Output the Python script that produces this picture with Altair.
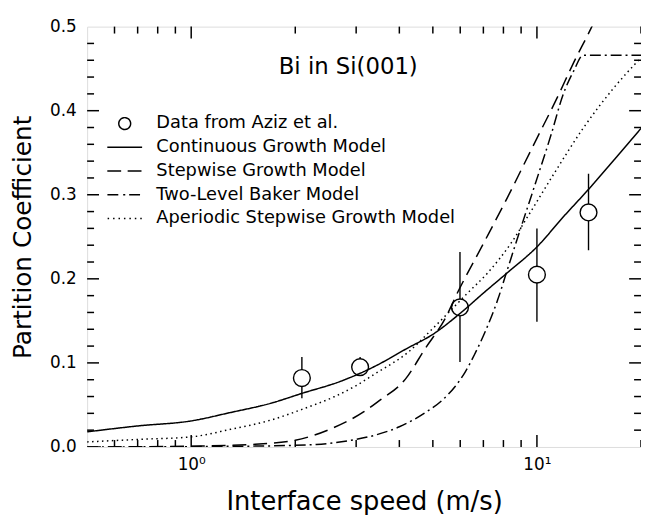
import altair as alt
import pandas as pd

FONT = "DejaVu Sans"

series_names = [
    "Data from Aziz et al.",
    "Continuous Growth Model",
    "Stepwise Growth Model",
    "Two-Level Baker Model",
    "Aperiodic Stepwise Growth Model",
]

# measured data (Aziz et al.)
data_speed = [2.09, 3.08, 5.99, 10.0, 14.1]
data_k = [0.082, 0.095, 0.166, 0.205, 0.279]
data_k_lo = [0.058, 0.086, 0.101, 0.149, 0.234]
data_k_hi = [0.107, 0.107, 0.232, 0.260, 0.325]

# Continuous Growth Model (solid)
cgm_speed = [0.5, 0.7, 1.0, 1.3, 1.7, 2.1, 2.7, 3.4, 4.2, 5.0, 6.0, 7.0, 8.2, 10.0, 12.0, 14.0, 17.0, 20.0]
cgm_k = [0.018, 0.025, 0.031, 0.041, 0.052, 0.064, 0.078, 0.096, 0.117, 0.134, 0.159, 0.183, 0.207, 0.238, 0.275, 0.305, 0.345, 0.379]

# Stepwise Growth Model (dashed)
sgm_speed = [0.5, 1.0, 1.5, 2.0, 2.55, 3.16, 3.47, 4.17, 4.75, 5.43, 5.9, 6.92, 8.2, 9.8, 11.4, 12.8, 14.3, 15.0]
sgm_k = [0.0, 0.001, 0.003, 0.008, 0.022, 0.042, 0.054, 0.081, 0.117, 0.153, 0.184, 0.238, 0.296, 0.360, 0.414, 0.458, 0.497, 0.515]

# Two-Level Baker Model (dash-dot)
tlb_speed = [0.5, 1.5, 2.3, 2.9, 3.4, 4.0, 4.8, 5.3, 5.8, 6.2, 6.6, 7.1, 7.7, 8.2, 8.7, 9.8, 11.0, 11.9, 12.8, 13.6, 20.0]
tlb_k = [0.0, 0.001, 0.003, 0.008, 0.014, 0.024, 0.042, 0.055, 0.072, 0.089, 0.110, 0.138, 0.175, 0.210, 0.243, 0.308, 0.372, 0.419, 0.448, 0.466, 0.466]

# Aperiodic Stepwise Growth Model (dotted)
asg_speed = [0.5, 0.7, 1.0, 1.3, 1.7, 2.1, 2.6, 3.0, 3.4, 4.25, 5.0, 6.3, 7.2, 8.5, 9.5, 11.2, 13.6, 16.6, 20.0]
asg_k = [0.006, 0.009, 0.012, 0.021, 0.032, 0.045, 0.060, 0.073, 0.087, 0.113, 0.141, 0.183, 0.207, 0.245, 0.277, 0.325, 0.379, 0.426, 0.463]

# axis ticks
x_label_ticks = [1, 10]
x_minor_ticks = [0.6, 0.7, 0.8, 0.9, 2, 3, 4, 5, 6, 7, 8, 9, 20]
y_label_ticks = [0.0, 0.1, 0.2, 0.3, 0.4, 0.5]
y_major_ticks = [0.1, 0.2, 0.3, 0.4]
y_minor_ticks = [0.02, 0.04, 0.06, 0.08, 0.12, 0.14, 0.16, 0.18, 0.22, 0.24, 0.26, 0.28,
                 0.32, 0.34, 0.36, 0.38, 0.42, 0.44, 0.46, 0.48]

W, H = 560, 425
MAJOR, MINOR = 12, 7

frames = []
for name, xs, ys in [
    (series_names[1], cgm_speed, cgm_k),
    (series_names[2], sgm_speed, sgm_k),
    (series_names[3], tlb_speed, tlb_k),
    (series_names[4], asg_speed, asg_k),
]:
    frames.append(pd.DataFrame({"speed": xs, "k": ys, "series": name}))
curves = pd.concat(frames, ignore_index=True)

pts = pd.DataFrame({"speed": data_speed, "k": data_k, "lo": data_k_lo, "hi": data_k_hi,
                    "series": series_names[0]})

xscale = alt.Scale(type="log", domain=[0.5, 20], nice=False)
yscale = alt.Scale(domain=[0, 0.5], nice=False, zero=False)

xaxis = alt.Axis(values=x_label_ticks,
                 labelExpr="datum.value == 1 ? '10\u2070' : '10\u00b9'",
                 ticks=False, tickSize=0, domain=False, grid=False,
                 labelFont=FONT, labelFontSize=17, labelColor="black",
                 labelBaseline="alphabetic", labelPadding=23,
                 title="Interface speed (m/s)", titleFont=FONT, titleFontSize=26,
                 titleFontWeight="normal", titleColor="black",
                 titleY=63, titleBaseline="alphabetic")
yaxis = alt.Axis(values=y_label_ticks, format=".1f",
                 ticks=False, tickSize=0, domain=False, grid=False,
                 labelFont=FONT, labelFontSize=17, labelColor="black",
                 labelPadding=11, labelBaseline="middle",
                 title="Partition Coefficient", titleFont=FONT, titleFontSize=25,
                 titleFontWeight="normal", titleColor="black",
                 titleX=-57, titleBaseline="alphabetic")

X = lambda f: alt.X(f, type="quantitative", scale=xscale, axis=xaxis)
Y = lambda f: alt.Y(f, type="quantitative", scale=yscale, axis=yaxis)

# legend glyphs (unit square = 22 px)
circle_path = "M0.545,0A0.545,0.545,0,1,1,-0.545,0A0.545,0.545,0,1,1,0.545,0Z"
solid_path = "M-1.6,0L1.6,0"
dashed_path = "M-1.6,0L-0.3,0M0.27,0L1.6,0"
dashdot_path = "M-1.59,0L-0.5,0M-0.14,0L0.05,0M0.41,0L1.59,0"
dotted_path = "".join("M%.3f,0L%.3f,0" % (c - 0.07, c + 0.07)
                      for c in [-1.5, -1.0, -0.5, 0.0, 0.5, 1.0, 1.5])
shapes = [circle_path, solid_path, dashed_path, dashdot_path, dotted_path]
dashes = [[1, 0], [1, 0], [14, 7], [11, 4, 2, 4], [1.5, 3.5]]

legend_def = alt.Legend(title=None, orient="none", legendX=26, legendY=86,
                        symbolSize=484, symbolStrokeWidth=1.5,
                        symbolStrokeColor="black",
                        labelFont=FONT, labelFontSize=18, labelColor="black",
                        labelLimit=500, labelOffset=20, rowPadding=3, padding=0)

errbars = alt.Chart(pts).mark_rule(color="black", strokeWidth=1.4).encode(
    x=X("speed"), y=Y("lo"), y2="hi")

point_fill = alt.Chart(pts).mark_circle(color="white", size=289, opacity=1).encode(
    x=X("speed"), y=Y("k"))

points = alt.Chart(pts).mark_point(filled=False, color="black",
                                   strokeWidth=1.4, size=973, opacity=1).encode(
    x=X("speed"), y=Y("k"),
    shape=alt.Shape("series:N", scale=alt.Scale(domain=series_names, range=shapes),
                    legend=legend_def))

lines = alt.Chart(curves).mark_line(color="black", strokeWidth=1.5, clip=True,
                                    interpolate="monotone").encode(
    x=X("speed"), y=Y("k"),
    strokeDash=alt.StrokeDash("series:N",
                              scale=alt.Scale(domain=series_names, range=dashes),
                              legend=None))

def xticks(vals, length):
    df = pd.DataFrame({"v": vals})
    bottom = alt.Chart(df).mark_rule(color="black", strokeWidth=1.5).encode(
        x=X("v"), y=alt.value(H), y2=alt.value(H - length))
    top = alt.Chart(df).mark_rule(color="black", strokeWidth=1.5).encode(
        x=X("v"), y=alt.value(0), y2=alt.value(length))
    return [bottom, top]

def yticks(vals, length):
    df = pd.DataFrame({"v": vals})
    left = alt.Chart(df).mark_rule(color="black", strokeWidth=1.5).encode(
        y=Y("v"), x=alt.value(0), x2=alt.value(length))
    right = alt.Chart(df).mark_rule(color="black", strokeWidth=1.5).encode(
        y=Y("v"), x=alt.value(W), x2=alt.value(W - length))
    return [left, right]

tick_layers = (xticks(x_label_ticks, MAJOR) + xticks(x_minor_ticks, MINOR)
               + yticks(y_major_ticks, MAJOR) + yticks(y_minor_ticks, MINOR))

chart = alt.layer(errbars, point_fill, points, lines, *tick_layers).properties(
    width=W, height=H,
    autosize=alt.AutoSizeParams(type="none"),
    padding={"left": 80, "top": 16, "right": 0, "bottom": 70},
    title=alt.TitleParams("Bi in Si(001)", anchor="middle", orient="top",
                          offset=0, dy=80, dx=-16, baseline="alphabetic",
                          font=FONT, fontSize=23, fontWeight="normal", color="black"),
).configure_view(stroke="black", strokeWidth=2).configure(background="white")

chart.save("out.html", embed_options={"renderer": "svg", "actions": False})
